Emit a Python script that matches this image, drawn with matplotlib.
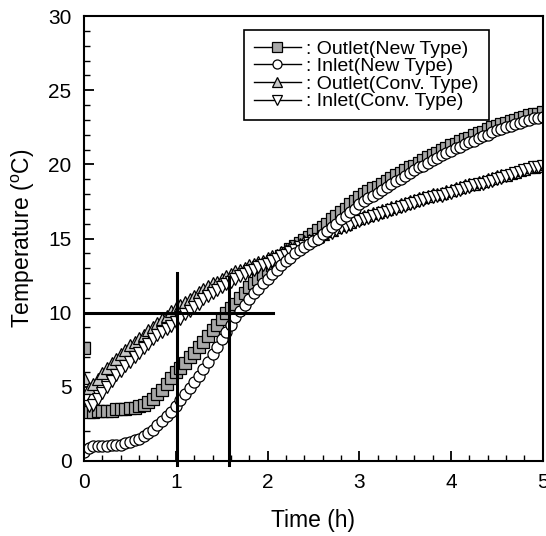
import numpy as np
import matplotlib
matplotlib.use("Agg")
import matplotlib.pyplot as plt
from matplotlib.lines import Line2D

plt.rcParams['font.family'] = ['Liberation Sans', 'DejaVu Sans']
plt.rcParams['mathtext.fontset'] = 'custom'
plt.rcParams['mathtext.rm'] = 'Liberation Sans'

# time samples every 0.05 h
time_h = np.linspace(0, 5, 101)

outlet_new = [
    7.6, 3.3, 3.3, 3.4, 3.4, 3.4, 3.4, 3.5, 3.5, 3.5,
    3.6, 3.6, 3.7, 3.8, 4.0, 4.2, 4.5, 4.8, 5.2, 5.6,
    6.0, 6.3, 6.6, 7.0, 7.3, 7.7, 8.0, 8.4, 8.8, 9.2,
    9.6, 10.0, 10.3, 10.6, 11.0, 11.3, 11.7, 12.0, 12.3, 12.6,
    12.9, 13.2, 13.5, 13.8, 14.0, 14.3, 14.5, 14.7, 14.9, 15.1,
    15.3, 15.6, 15.8, 16.0, 16.3, 16.5, 16.8, 17.0, 17.3, 17.5,
    17.8, 18.0, 18.2, 18.4, 18.5, 18.7, 18.9, 19.1, 19.3, 19.4,
    19.6, 19.8, 19.9, 20.1, 20.3, 20.5, 20.6, 20.8, 21.0, 21.1,
    21.3, 21.4, 21.6, 21.7, 21.8, 22.0, 22.1, 22.2, 22.4, 22.5,
    22.6, 22.7, 22.8, 22.9, 23.0, 23.1, 23.2, 23.3, 23.4, 23.4,
    23.5,
]
inlet_new = [
    0.6, 0.9, 1.0, 1.0, 1.0, 1.0, 1.1, 1.1, 1.1, 1.2,
    1.3, 1.4, 1.5, 1.7, 1.9, 2.1, 2.4, 2.7, 3.0, 3.3,
    3.7, 4.1, 4.5, 4.9, 5.3, 5.7, 6.2, 6.7, 7.2, 7.7,
    8.2, 8.7, 9.2, 9.7, 10.1, 10.5, 10.9, 11.3, 11.6, 12.0,
    12.3, 12.6, 12.9, 13.2, 13.5, 13.7, 14.0, 14.2, 14.4, 14.6,
    14.8, 15.0, 15.3, 15.5, 15.8, 16.0, 16.3, 16.5, 16.8, 17.0,
    17.3, 17.5, 17.7, 17.9, 18.1, 18.3, 18.5, 18.7, 18.9, 19.0,
    19.2, 19.4, 19.6, 19.8, 19.9, 20.1, 20.3, 20.4, 20.6, 20.8,
    20.9, 21.1, 21.2, 21.4, 21.5, 21.6, 21.8, 21.9, 22.0, 22.2,
    22.3, 22.4, 22.5, 22.6, 22.7, 22.8, 22.9, 23.0, 23.1, 23.1,
    23.2,
]
outlet_conv = [
    5.6, 4.9, 5.2, 5.5, 5.9, 6.3, 6.6, 6.9, 7.2, 7.5,
    7.8, 8.0, 8.3, 8.5, 8.8, 9.0, 9.3, 9.6, 9.8, 10.1,
    10.3, 10.5, 10.7, 10.9, 11.1, 11.4, 11.6, 11.8, 12.0, 12.1,
    12.3, 12.5, 12.6, 12.8, 12.9, 13.0, 13.2, 13.3, 13.4, 13.5,
    13.7, 13.8, 13.9, 14.1, 14.2, 14.4, 14.5, 14.6, 14.8, 14.9,
    15.0, 15.2, 15.3, 15.5, 15.6, 15.8, 15.9, 16.0, 16.1, 16.3,
    16.4, 16.5, 16.6, 16.7, 16.8, 16.9, 17.0, 17.1, 17.2, 17.3,
    17.4, 17.5, 17.6, 17.7, 17.8, 17.9, 18.0, 18.0, 18.1, 18.2,
    18.3, 18.4, 18.5, 18.6, 18.7, 18.7, 18.8, 18.9, 19.0, 19.1,
    19.2, 19.3, 19.3, 19.4, 19.5, 19.6, 19.7, 19.8, 19.8, 19.9,
    20.0,
]
inlet_conv = [
    4.1, 3.7, 3.8, 4.2, 4.6, 5.0, 5.4, 5.8, 6.1, 6.4,
    6.7, 7.0, 7.3, 7.6, 7.9, 8.2, 8.5, 8.7, 8.9, 9.1,
    9.4, 9.6, 9.9, 10.1, 10.4, 10.6, 10.9, 11.1, 11.3, 11.5,
    11.7, 11.9, 12.1, 12.3, 12.5, 12.6, 12.8, 12.9, 13.1, 13.2,
    13.3, 13.5, 13.6, 13.8, 13.9, 14.1, 14.2, 14.4, 14.5, 14.7,
    14.8, 15.0, 15.1, 15.3, 15.4, 15.6, 15.7, 15.8, 15.9, 16.1,
    16.2, 16.3, 16.4, 16.5, 16.6, 16.7, 16.8, 16.9, 17.0, 17.1,
    17.2, 17.3, 17.4, 17.5, 17.6, 17.7, 17.8, 17.9, 17.9, 18.0,
    18.1, 18.2, 18.3, 18.4, 18.5, 18.6, 18.7, 18.7, 18.8, 18.9,
    19.0, 19.1, 19.2, 19.3, 19.4, 19.5, 19.6, 19.7, 19.8, 19.8,
    19.9,
]

labels = [': Outlet(New Type)', ': Inlet(New Type)',
          ': Outlet(Conv. Type)', ': Inlet(Conv. Type)']

# guide lines: y=10 level and the two times it is reached
level = 10
level_end = 2.06
t_cross = [1.01, 1.58]
t_cross_top = [12.7, 12.4]

fig = plt.figure(figsize=(5.46, 5.36), dpi=100)
ax = fig.add_axes([0.154, 0.14, 0.840, 0.830])

ms = 8
mew = 0.9
series = [
    (outlet_new, 's', '#a8a8a8'),
    (outlet_conv, '^', '#c8c8c8'),
    (inlet_conv, 'v', 'white'),
    (inlet_new, 'o', 'white'),
]
for vals, mk, fc in series:
    ax.plot(time_h, vals, linestyle='none', marker=mk, markersize=ms,
            markerfacecolor=fc, markeredgecolor='black', markeredgewidth=mew)

ax.plot([0, level_end], [level, level], color='black', lw=2.2, zorder=5)
for tc, top in zip(t_cross, t_cross_top):
    ax.plot([tc, tc], [-0.3, top], color='black', lw=2.2, zorder=5, clip_on=False)

ax.set_xlim(0, 5)
ax.set_ylim(0, 30)
ax.set_xticks(range(0, 6))
ax.set_yticks(range(0, 31, 5))
ax.set_xticks(np.arange(0, 5.01, 0.2), minor=True)
ax.set_yticks(range(0, 31), minor=True)
ax.tick_params(which='major', direction='in', length=7, width=1.3,
               labelsize=15, pad=9)
ax.tick_params(which='minor', direction='in', length=4, width=1.0)
for sp in ax.spines.values():
    sp.set_linewidth(1.5)

ax.set_xlabel('Time (h)', fontsize=16.5, labelpad=12)
ax.set_ylabel('Temperature ($^{\\rm o}$C)', fontsize=16.5, labelpad=8)

handles = []
for (vals, mk, fc) in [series[0], series[3], series[1], series[2]]:
    handles.append(Line2D([0], [0], color='black', lw=1.0, marker=mk,
                          markersize=6.5, markerfacecolor=fc,
                          markeredgecolor='black', markeredgewidth=mew))
leg = ax.legend(handles, labels, loc='upper left', bbox_to_anchor=(0.349, 0.968),
                borderaxespad=0, fontsize=14, labelspacing=0.0,
                handlelength=2.4, handletextpad=0.3, fancybox=False,
                framealpha=1, edgecolor='black', borderpad=0.5)
leg.get_frame().set_linewidth(1.2)

fig.savefig('out.png', dpi=100)
